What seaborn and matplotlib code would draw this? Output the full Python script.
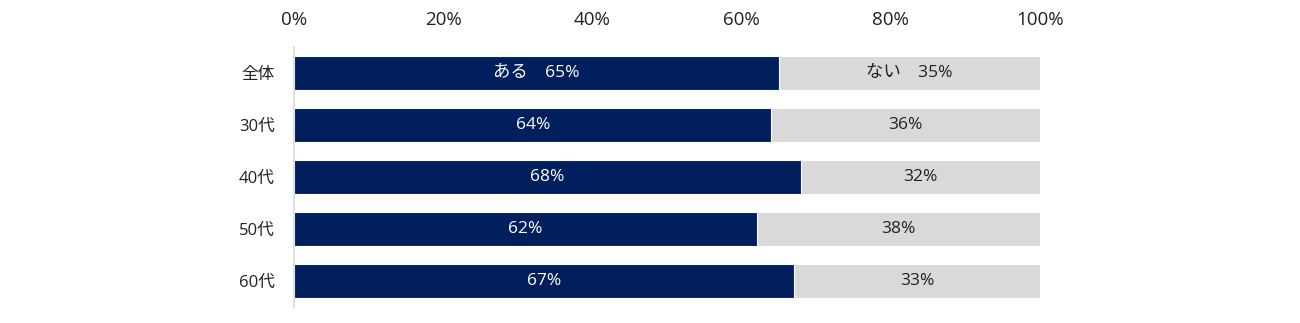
import matplotlib
matplotlib.use("Agg")
import matplotlib.pyplot as plt
import seaborn as sns
import pandas as pd

categories = ["全体", "30代", "40代", "50代", "60代"]
yes_vals = [65, 64, 68, 62, 67]
no_vals = [35, 36, 32, 38, 33]
tick_vals = [0, 20, 40, 60, 80, 100]
tick_labels = ["0%", "20%", "40%", "60%", "80%", "100%"]

sns.set_theme(style="white")
plt.rcParams['font.family'] = ['Open Sans', 'Noto Sans CJK JP', 'DejaVu Sans']

df = pd.DataFrame({"cat": categories, "yes": yes_vals, "no": no_vals})
df["total"] = df["yes"] + df["no"]

fig = plt.figure(figsize=(13, 3.23), dpi=100)
ax = fig.add_axes([294/1300, 1-307/323, (1040-294)/1300, (307-47)/323])

sns.barplot(data=df, x="total", y="cat", orient="h", color="#D9D9D9",
            saturation=1, width=0.66, edgecolor="white", linewidth=0.8, ax=ax)
sns.barplot(data=df, x="yes", y="cat", orient="h", color="#001F5C",
            saturation=1, width=0.66, edgecolor="white", linewidth=0.8, ax=ax)

for i, (y, n) in enumerate(zip(yes_vals, no_vals)):
    yl = f"ある　{y}%" if i == 0 else f"{y}%"
    nl = f"ない　{n}%" if i == 0 else f"{n}%"
    ax.text(y / 2, i, yl, ha="center", va="center", color="white", fontsize=12.5)
    ax.text(y + n / 2, i, nl, ha="center", va="center", color="#222222", fontsize=12.5)

ax.set_xlim(0, 100)
ax.set_ylim(4.5, -0.5)
ax.set_xticks(tick_vals)
ax.set_xticklabels(tick_labels, fontsize=13.5, color="#222222")
ax.xaxis.tick_top()
ax.tick_params(axis="x", length=0, pad=13)
ax.tick_params(axis="y", length=0, pad=14, labelsize=12, labelcolor="#222222")
ax.set_xlabel("")
ax.set_ylabel("")
for s in ["top", "right", "bottom"]:
    ax.spines[s].set_visible(False)
ax.spines["left"].set_color("#D9D9D9")
ax.spines["left"].set_linewidth(1.2)

fig.savefig("out.png", dpi=100)
